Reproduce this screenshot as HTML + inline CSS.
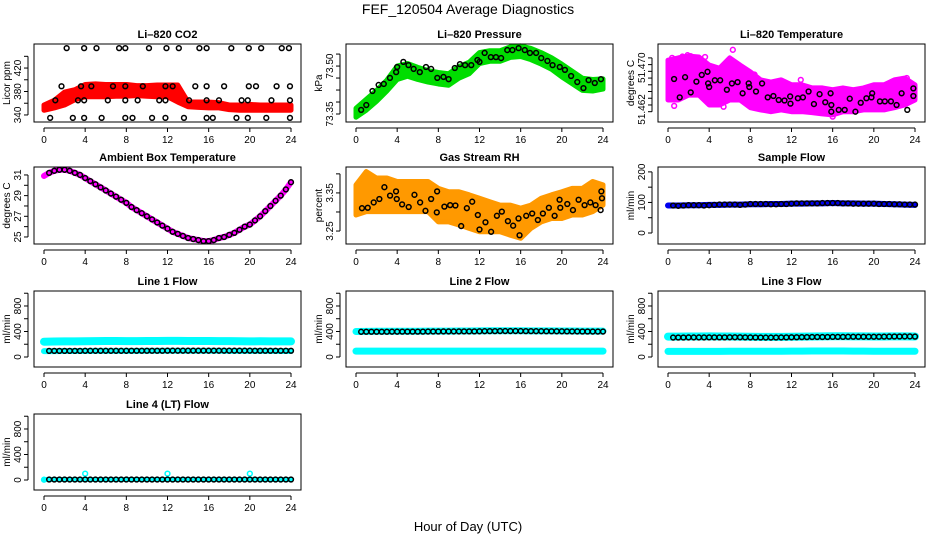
<!DOCTYPE html>
<html><head><meta charset="utf-8"><style>
html,body{margin:0;padding:0;background:#fff;}
svg{display:block;font-family:"Liberation Sans",sans-serif;}
</style></head><body>
<svg id="chart" width="936" height="540" viewBox="0 0 936 540" xmlns="http://www.w3.org/2000/svg">
<rect x="0" y="0" width="936" height="540" fill="#fff"/>
<text x="468" y="14" text-anchor="middle" font-size="14">FEF_120504  Average Diagnostics</text>
<text x="468" y="531" text-anchor="middle" font-size="13">Hour of Day (UTC)</text>
</svg>
<script>
// ---------- data ----------
const hours = [0,1,2,3,4,5,6,7,8,9,10,11,12,13,14,15,16,17,18,19,20,21,22,23,24];
const halfHours = [0.5,1,1.5,2,2.5,3,3.5,4,4.5,5,5.5,6,6.5,7,7.5,8,8.5,9,9.5,10,10.5,11,11.5,12,12.5,13,13.5,14,14.5,15,15.5,16,16.5,17,17.5,18,18.5,19,19.5,20,20.5,21,21.5,22,22.5,23,23.5,24];
const xTicks = [0,4,8,12,16,20,24];

// CO2
const co2Lower = [348,352,357,366,371,371,371,372,372,373,372,371,371,362,354,353,352,352,349,348,348,348,348,348,348];
const co2Upper = [357,365,379,383,392,393,392,392,392,390,390,391,391,391,362,362,362,361,357,357,358,357,357,357,357];
const co2PtTimes = [2.2,3.9,5.1,7.3,7.9,10.2,11.9,13.1,15.1,15.8,18.2,19.9,21.1,23.1,23.8,
  1.7,3.6,4.6,6.7,7.9,9.6,11.8,12.5,14.7,15.8,17.5,19.9,20.6,22.6,23.9,
  1.1,3.3,3.9,6.2,7.9,9.1,11.2,11.8,14.1,15.8,17.0,19.2,19.8,22.1,23.9,
  0.6,2.8,3.9,5.6,7.9,8.6,10.5,11.8,13.6,15.8,16.4,18.7,19.8,21.6,23.9];
const co2PtValues = [454,454,454,454,454,454,454,454,454,454,454,454,454,454,454,
  389,389,389,389,389,389,389,389,389,389,389,389,389,389,389,
  365,365,365,365,365,365,365,365,365,365,365,365,365,365,365,
  335,335,335,335,335,335,335,335,335,335,335,335,335,335,335];

// Pressure
const presLower = [73.340,73.362,73.390,73.422,73.458,73.468,73.458,73.450,73.444,73.440,73.462,73.476,73.508,73.515,73.515,73.527,73.530,73.520,73.506,73.490,73.466,73.445,73.424,73.422,73.428];
const presUpper = [73.368,73.396,73.424,73.456,73.500,73.508,73.496,73.486,73.480,73.476,73.498,73.512,73.542,73.548,73.548,73.560,73.563,73.555,73.542,73.526,73.506,73.484,73.462,73.458,73.460];
const presPtTimes = [0.5,1,1.6,2.2,2.7,3.3,3.9,4,4.6,5.1,5.6,6.2,6.8,7.3,7.9,8.5,9,9.6,10.1,10.6,11.2,11.8,12,12.5,13.1,13.6,14.1,14.7,15.2,15.8,16.4,16.9,17.5,18,18.6,19.1,19.8,20.3,20.9,21.5,22.1,22.6,23.2,23.8];
const presPtValues = [73.363,73.378,73.422,73.441,73.444,73.463,73.481,73.497,73.513,73.503,73.491,73.481,73.497,73.491,73.463,73.466,73.459,73.494,73.506,73.503,73.503,73.519,73.513,73.541,73.528,73.528,73.525,73.550,73.550,73.556,73.550,73.541,73.541,73.525,73.516,73.503,73.497,73.488,73.469,73.450,73.431,73.456,73.447,73.459];

// Li-820 temperature
const ltUpper = [51.4722,51.4727,51.4731,51.4729,51.4711,51.4704,51.4727,51.4711,51.4696,51.4678,51.4673,51.4678,51.4667,51.4667,51.4660,51.4660,51.4656,51.4660,51.4656,51.4660,51.4667,51.4667,51.4678,51.4682,51.4667];
const ltLower = [51.4633,51.4633,51.4644,51.4644,51.4622,51.4622,51.4633,51.4633,51.4616,51.4611,51.4607,51.4611,51.4607,51.4607,51.4605,51.4602,51.4600,51.4607,51.4607,51.4611,51.4611,51.4611,51.4616,51.4622,51.4633];
const ltOutTimes = [6.3,0.4,0.6,1.9,2.2,1.4,3.6,12.9,23.2,22.4,0.6,5.4,8.4,16.0];
const ltOutValues = [51.4745,51.4727,51.4722,51.4733,51.4731,51.4730,51.4729,51.4678,51.4682,51.4671,51.4620,51.4618,51.4690,51.4596];
const ltPtTimes = [0.59,1.14,1.66,2.21,2.76,3.28,3.84,3.90,4.00,4.55,5.07,5.72,6.21,6.76,7.25,7.84,7.90,8.55,9.14,9.69,10.24,10.76,11.32,11.87,11.90,12.62,13.11,13.66,14.18,14.73,15.28,15.80,15.87,15.87,16.59,17.17,17.66,18.21,18.73,19.28,19.77,19.84,20.59,21.07,21.66,22.21,22.70,23.25,23.84,23.84];
const ltPtValues = [51.4680,51.4639,51.4684,51.4650,51.4674,51.4689,51.4696,51.4670,51.4662,51.4677,51.4677,51.4656,51.4670,51.4673,51.4648,51.4670,51.4662,51.4652,51.4670,51.4639,51.4642,51.4633,51.4632,51.4641,51.4625,51.4637,51.4639,51.4652,51.4624,51.4646,51.4628,51.4648,51.4622,51.4607,51.4611,51.4611,51.4636,51.4607,51.4627,51.4637,51.4639,51.4648,51.4630,51.4630,51.4630,51.4622,51.4648,51.4611,51.4659,51.4642];

// Ambient box temperature (half-hourly, starting 0)
const ambTimes = [0,0.5,1,1.5,2,2.5,3,3.5,4,4.5,5,5.5,6,6.5,7,7.5,8,8.5,9,9.5,10,10.5,11,11.5,12,12.5,13,13.5,14,14.5,15,15.5,16,16.5,17,17.5,18,18.5,19,19.5,20,20.5,21,21.5,22,22.5,23,23.5,24];
const ambValues = [30.9,31.2,31.4,31.5,31.5,31.4,31.2,31.0,30.7,30.4,30.1,29.8,29.5,29.2,28.9,28.6,28.3,27.9,27.6,27.3,27.0,26.7,26.4,26.1,25.8,25.5,25.3,25.1,24.9,24.8,24.7,24.6,24.6,24.7,24.9,25.0,25.2,25.4,25.7,26.0,26.2,26.6,27.0,27.5,28.0,28.5,29.0,29.6,30.3];

// Gas stream RH
const rhUpper = [3.371,3.406,3.389,3.389,3.380,3.380,3.380,3.380,3.362,3.353,3.353,3.345,3.336,3.327,3.318,3.318,3.310,3.318,3.336,3.345,3.353,3.362,3.362,3.380,3.371];
const rhLower = [3.292,3.301,3.301,3.301,3.301,3.301,3.301,3.301,3.274,3.274,3.266,3.257,3.248,3.248,3.248,3.239,3.231,3.257,3.274,3.283,3.283,3.292,3.292,3.301,3.318];
const rhPtTimes = [0.58,1.14,1.72,2.27,2.76,3.31,3.89,3.96,4.48,5.12,5.68,6.23,6.75,7.30,7.88,7.85,8.59,9.15,9.66,10.22,10.77,11.29,11.84,12.0,12.58,13.13,13.69,14.17,14.76,15.27,15.79,15.89,16.54,17.12,17.67,18.16,18.74,19.30,19.78,19.85,20.53,21.08,21.63,22.21,22.77,23.28,23.77,23.84,23.90];
const rhPtValues = [3.310,3.311,3.325,3.334,3.365,3.343,3.354,3.334,3.320,3.313,3.345,3.325,3.303,3.334,3.354,3.299,3.314,3.318,3.317,3.263,3.310,3.327,3.292,3.254,3.273,3.248,3.290,3.301,3.276,3.264,3.283,3.239,3.290,3.296,3.279,3.296,3.311,3.290,3.332,3.311,3.321,3.305,3.332,3.318,3.325,3.318,3.305,3.354,3.336];

// Sample flow
const sfBand = [90,90,91,91,92,92,93,93,94,94,95,95,96,96,97,97,98,97,97,96,96,95,94,93,92];
const sfPoints = [90,89,90,91,91,91,90,91,92,93,93,93,93,92,93,95,95,95,95,94,94,95,95,96,97,97,97,97,97,98,98,98,98,97,97,96,96,96,96,96,95,95,95,94,94,93,93,93];

// Line flows
const l1High = [240,242,244,245,246,248,250,250,249,248,250,251,252,252,251,250,250,249,248,247,245,246,245,244,244];
const l1Low = [92,92,93,93,94,95,95,96,96,96,97,97,98,98,98,98,97,97,96,96,96,95,95,94,94];
const l1Points = [96,96,96,96,96,96,96,97,97,97,97,97,97,97,97,97,98,98,98,98,98,98,98,99,99,99,99,99,99,99,99,99,99,99,99,99,99,99,99,99,98,98,98,98,98,98,98,98];
const l2High = [400,402,403,403,403,403,404,405,406,406,407,408,410,411,412,412,411,410,410,409,408,407,406,405,405];
const l2Low = [92,92,92,92,92,92,92,92,92,92,92,92,92,92,92,92,92,92,92,92,92,92,92,92,92];
const l2Points = [395,396,396,396,396,396,397,397,398,398,398,398,398,399,400,400,401,401,401,401,402,402,402,403,405,406,406,407,407,407,407,407,406,406,405,405,404,404,403,403,402,401,401,400,400,399,399,399];
const l3High = [320,320,321,322,323,322,321,320,318,316,315,316,318,320,322,324,325,325,324,323,322,322,323,324,322];
const l3Low = [88,88,88,89,89,89,90,90,90,90,91,91,92,92,93,93,93,93,92,92,91,91,90,90,90];
const l3Points = [305,306,306,307,307,307,307,308,308,308,308,309,309,309,308,307,306,306,305,305,306,307,308,309,310,311,312,313,313,313,314,315,316,316,317,317,318,318,318,318,318,319,320,321,321,322,322,320];
const l4Times = [0,4,12,20];
const l4Spikes = [5,100,100,100];
const l4Points = [8,8,8,8,8,8,8,8,8,8,8,8,8,8,8,8,8,8,8,8,8,8,8,8,8,8,8,8,8,8,8,8,8,8,8,8,8,8,8,8,8,8,8,8,8,8,8,8];

// ---------- drawing ----------
const svg = document.getElementById('chart');
const NS = 'http://www.w3.org/2000/svg';
function mk(tag, attrs, parent) {
  const e = document.createElementNS(NS, tag);
  for (const k in attrs) e.setAttribute(k, attrs[k]);
  (parent || svg).appendChild(e);
  return e;
}
const colX = [34, 346, 658];
const rowY = [44, 167, 291, 414];
const BW = 267;

function panel(col, row, h, ylim, yTicks, yLabels, title, ytitle, slug) {
  const g = mk('g', {});
  
  
  const x0 = colX[col], y0 = rowY[row], x1 = x0 + BW, y1 = y0 + h;
  const sx = t => x0 + 10 + t / 24 * (BW - 20);
  const sy = v => y1 - (v - ylim[0]) / (ylim[1] - ylim[0]) * h;
  const plot = mk('g', {}, g);
  
  
  const frame = mk('rect', {x: x0, y: y0, width: BW, height: h, fill: 'none', stroke: '#000', 'stroke-width': 1}, g);
  
  
  const t = mk('text', {x: x0 + BW / 2, y: y0 - 6, 'text-anchor': 'middle', 'font-size': 11, 'font-weight': 'bold'}, g);
  
  
  t.textContent = title;
  const xa = mk('g', {}, g);
  
  
  mk('line', {x1: sx(0), x2: sx(24), y1: y1 + 6, y2: y1 + 6, stroke: '#000'}, xa);
  xTicks.forEach(v => {
    mk('line', {x1: sx(v), x2: sx(v), y1: y1 + 6, y2: y1 + 10, stroke: '#000'}, xa);
    const tl = mk('text', {x: sx(v), y: y1 + 21, 'text-anchor': 'middle', 'font-size': 10}, xa);
    
    
    tl.textContent = v;
  });
  const ya = mk('g', {}, g);
  
  
  mk('line', {x1: x0 - 6, x2: x0 - 6, y1: sy(yTicks[0]), y2: sy(yTicks[yTicks.length - 1]), stroke: '#000'}, ya);
  yTicks.forEach(v => mk('line', {x1: x0 - 10, x2: x0 - 6, y1: sy(v), y2: sy(v), stroke: '#000'}, ya));
  yLabels.forEach(l => {
    const yy = sy(l[0]);
    const tl = mk('text', {x: x0 - 13, y: yy, 'text-anchor': 'middle', 'font-size': 10, transform: `rotate(-90 ${x0 - 13} ${yy})`}, ya);
    
    
    tl.textContent = l[1];
  });
  const yt = mk('text', {x: x0 - 24, y: y0 + h / 2, 'text-anchor': 'middle', 'font-size': 10, transform: `rotate(-90 ${x0 - 24} ${y0 + h / 2})`}, g);
  
  
  yt.textContent = ytitle;
  return {plot, sx, sy};
}
function band(P, lo, hi, color, slug) {
  let d = 'M' + hours.map((t, i) => P.sx(t) + ',' + P.sy(hi[i])).join('L');
  d += 'L' + hours.slice().reverse().map((t, j) => P.sx(t) + ',' + P.sy(lo[hours.length - 1 - j])).join('L') + 'Z';
  const e = mk('path', {d, fill: color, stroke: color, 'stroke-width': 5, 'stroke-linejoin': 'round'}, P.plot);
  
  
}
function line(P, ts, vs, color, w, slug) {
  const d = 'M' + ts.map((t, i) => P.sx(t) + ',' + P.sy(vs[i])).join('L');
  const e = mk('path', {d, fill: 'none', stroke: color, 'stroke-width': w, 'stroke-linecap': 'round', 'stroke-linejoin': 'round'}, P.plot);
  
  
}
function pts(P, ts, vs, color, slug) {
  ts.forEach((t, i) => {
    const c = mk('circle', {cx: P.sx(t), cy: P.sy(vs[i]), r: 2.4, fill: 'none', stroke: color, 'stroke-width': 1.5}, P.plot);
    
    
  });
}

let P = panel(0, 0, 78, [328, 461], [340,360,380,400,420,440], [[340,'340'],[380,'380'],[420,'420']], 'Li\u2013820 CO2', 'Licor ppm', 'co2');
band(P, co2Lower, co2Upper, '#ff0000', 'co2-band');
pts(P, co2PtTimes, co2PtValues, '#000', 'co2-point');

P = panel(1, 0, 78, [73.325, 73.569], [73.35,73.3875,73.425,73.4625,73.50,73.5375], [[73.35,'73.35'],[73.50,'73.50']], 'Li\u2013820 Pressure', 'kPa', 'pressure');
band(P, presLower, presUpper, '#00dd00', 'pressure-band');
pts(P, presPtTimes, presPtValues, '#000', 'pressure-point');

P = panel(2, 0, 78, [51.4584, 51.4758], [51.4607,51.4622,51.4637,51.4652,51.4667,51.4682,51.4697,51.4712,51.4727], [[51.4612,'51.462'],[51.4705,'51.470']], 'Li\u2013820 Temperature', 'degrees C', 'li-temp');
band(P, ltLower, ltUpper, '#ff00ff', 'li-temp-band');
pts(P, ltOutTimes, ltOutValues, '#ff00ff', 'li-temp-outlier');
pts(P, ltPtTimes, ltPtValues, '#000', 'li-temp-point');

P = panel(0, 1, 77, [24.32, 31.77], [25,26,27,28,29,30,31], [[25,'25'],[27,'27'],[29,'29'],[31,'31']], 'Ambient Box Temperature', 'degrees C', 'ambient-temp');
line(P, ambTimes, ambValues, '#ff00ff', 6, 'ambient-temp-line');
pts(P, ambTimes.slice(1), ambValues.slice(1), '#000', 'ambient-temp-point');

P = panel(1, 1, 77, [3.216, 3.418], [3.25,3.30,3.35,3.40], [[3.25,'3.25'],[3.35,'3.35']], 'Gas Stream RH', 'percent', 'rh');
band(P, rhLower, rhUpper, '#ff9900', 'rh-band');
pts(P, rhPtTimes, rhPtValues, '#000', 'rh-point');

P = panel(2, 1, 77, [-36, 216], [0,50,100,150,200], [[0,'0'],[100,'100'],[200,'200']], 'Sample Flow', 'ml/min', 'sample-flow');
line(P, hours, sfBand, '#0000ee', 6, 'sample-flow-band');
pts(P, halfHours, sfPoints, '#000', 'sample-flow-point');

const fTicks = [0,200,400,600,800,1000];
const fLabels = [[0,'0'],[400,'400'],[800,'800']];
P = panel(0, 2, 76, [-157, 1035], fTicks, fLabels, 'Line 1 Flow', 'ml/min', 'line1-flow');
line(P, hours, l1High, '#00ffff', 8, 'line1-high-band');
line(P, hours, l1Low, '#00ffff', 6, 'line1-low-band');
pts(P, halfHours, l1Points, '#000', 'line1-point');
P = panel(1, 2, 76, [-157, 1035], fTicks, fLabels, 'Line 2 Flow', 'ml/min', 'line2-flow');
line(P, hours, l2Low, '#00ffff', 7, 'line2-low-band');
line(P, hours, l2High, '#00ffff', 7, 'line2-high-band');
pts(P, halfHours, l2Points, '#000', 'line2-point');
P = panel(2, 2, 76, [-157, 1035], fTicks, fLabels, 'Line 3 Flow', 'ml/min', 'line3-flow');
line(P, hours, l3Low, '#00ffff', 7, 'line3-low-band');
line(P, hours, l3High, '#00ffff', 8, 'line3-high-band');
pts(P, halfHours, l3Points, '#000', 'line3-point');
P = panel(0, 3, 76, [-157, 1035], fTicks, fLabels, 'Line 4 (LT) Flow', 'ml/min', 'line4-flow');
line(P, [0,24], [8,8], '#00ffff', 5, 'line4-band');
pts(P, l4Times, l4Spikes, '#00ffff', 'line4-spike');
pts(P, halfHours, l4Points, '#000', 'line4-point');
</script>
</body></html>
